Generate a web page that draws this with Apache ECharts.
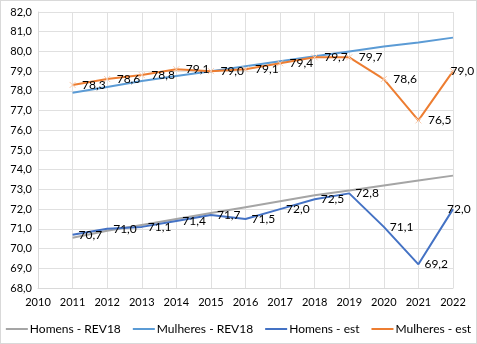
<!DOCTYPE html>
<html><head><meta charset="utf-8">
<script src="https://cdn.jsdelivr.net/npm/echarts@6/dist/echarts.min.js"></script>
<style>html,body{margin:0;padding:0;background:#fff}#c{position:absolute;left:0;top:0;width:477px;height:344px}#b{position:absolute;left:0;top:0;width:475px;height:342px;border:1px solid #d9d9d9;pointer-events:none}</style>
</head><body><div id="c"></div><div id="b"></div>
<script>
const years = ['2010','2011','2012','2013','2014','2015','2016','2017','2018','2019','2020','2021','2022'];
const homensRev18 = [null,70.55,70.9,71.2,71.5,71.8,72.1,72.4,72.7,72.95,73.2,73.45,73.7];
const mulheresRev18 = [null,77.9,78.2,78.5,78.75,79.0,79.25,79.5,79.75,80.0,80.25,80.45,80.7];
const homensEst = [null,70.7,71.0,71.1,71.4,71.7,71.5,72.0,72.5,72.8,71.1,69.2,72.0];
const mulheresEst = [null,78.3,78.6,78.8,79.1,79.0,79.1,79.4,79.7,79.7,78.6,76.5,79.0];
const fmt = v => v.toFixed(1).replace('.', ',');
const font = 'Lato';
const lbl = {show:true, position:'right', distance:6, color:'#000', fontFamily:font, fontSize:12, formatter:p=>fmt(p.value)};
const lastIdx = years.length - 1;
const layoutFn = p => (p.dataIndex === lastIdx ? {dx:-12, hideOverlap:false} : {hideOverlap:false});
const chart = echarts.init(document.getElementById('c'));
chart.setOption({
  animation:false,
  grid:{left:38,right:24,top:12,bottom:56,containLabel:false},
  legend:{top:318,left:'center',icon:'rect',itemWidth:22,itemHeight:2,itemGap:12,textStyle:{fontFamily:font,fontSize:12,color:'#000',padding:[0,0,0,-3]},
    data:[{name:'Homens - REV18',itemStyle:{color:'#A5A5A5'}},{name:'Mulheres - REV18',itemStyle:{color:'#5B9BD5'}},
          {name:'Homens - est',itemStyle:{color:'#4472C4'}},{name:'Mulheres - est',itemStyle:{color:'#ED7D31',borderWidth:0}}]},
  xAxis:{type:'category',data:years,boundaryGap:false,
    axisLine:{lineStyle:{color:'#d9d9d9'}},axisTick:{show:false},
    axisLabel:{color:'#000',fontFamily:font,fontSize:11,margin:9},
    splitLine:{show:true,lineStyle:{color:'#e0e0e0'}}},
  yAxis:{type:'value',min:68,max:82,interval:1,
    axisLine:{show:true,lineStyle:{color:'#d9d9d9'}},axisTick:{show:false},
    axisLabel:{color:'#000',fontFamily:font,fontSize:11,formatter:v=>fmt(v),margin:6},
    splitLine:{lineStyle:{color:'#e0e0e0'}}},
  series:[
    {name:'Homens - REV18',type:'line',data:homensRev18,symbol:'none',lineStyle:{color:'#A5A5A5',width:2},itemStyle:{color:'#A5A5A5'}},
    {name:'Mulheres - REV18',type:'line',data:mulheresRev18,symbol:'none',lineStyle:{color:'#5B9BD5',width:2},itemStyle:{color:'#5B9BD5'}},
    {name:'Homens - est',type:'line',data:homensEst,symbol:'circle',symbolSize:0.01,showSymbol:true,lineStyle:{color:'#4472C4',width:2},itemStyle:{color:'#4472C4'},label:lbl,
      labelLayout:layoutFn},
    {name:'Mulheres - est',type:'line',data:mulheresEst,symbol:'path://M0,0L10,10M10,0L0,10',symbolSize:6,showSymbol:true,
      lineStyle:{color:'#ED7D31',width:2},itemStyle:{color:'#ED7D31',borderColor:'#F8CBAD',borderWidth:1},label:lbl,labelLayout:layoutFn}
  ]
});
</script></body></html>
